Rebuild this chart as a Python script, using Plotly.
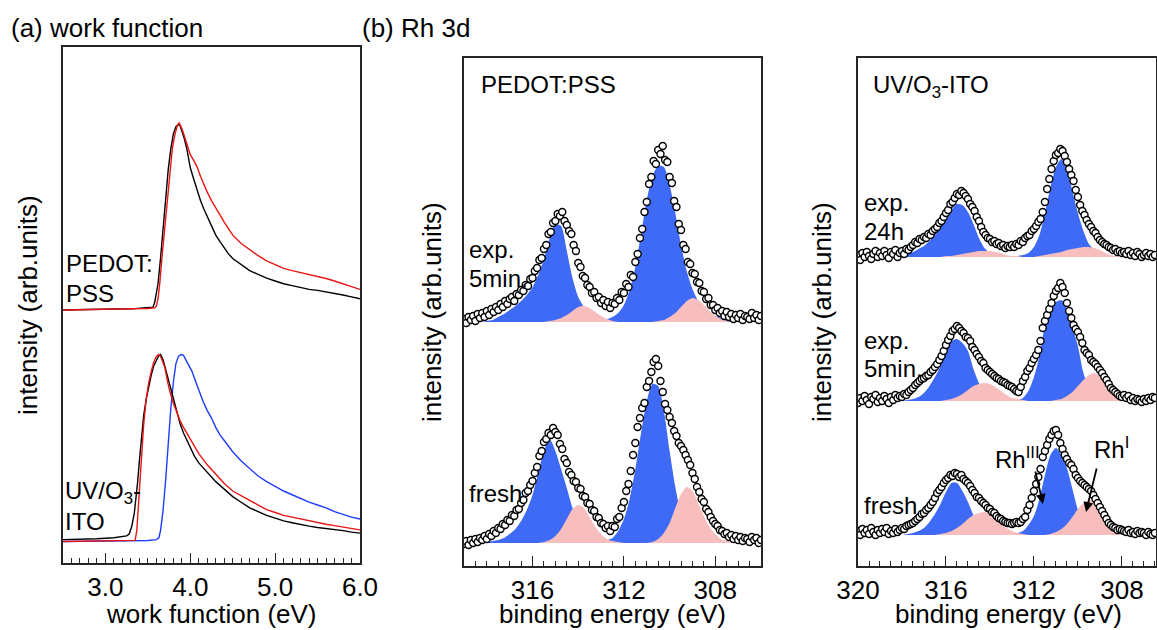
import numpy as np
import plotly.graph_objects as go

W, H = 1157, 630
FONT = "Liberation Sans, Arial, sans-serif"
BLUE = "rgb(62,106,245)"
PINK = "rgb(248,190,190)"

# ---------------- panel (a): work function (normalised intensity) ----------------
PED_BLK_X = [2.50, 2.70, 2.90, 3.10, 3.30, 3.50, 3.56, 3.58, 3.60, 3.62, 3.65, 3.68, 3.71, 3.74, 3.77, 3.80,
             3.83, 3.86, 3.88, 3.90, 3.93, 3.96, 4.00, 4.04, 4.08, 4.12, 4.16, 4.20, 4.25, 4.30, 4.35, 4.40,
             4.45, 4.50, 4.60, 4.70, 4.80, 4.90, 5.00, 5.10, 5.20, 5.30, 5.40, 5.50, 5.60, 5.70, 5.80, 5.90, 6.00]
PED_BLK_Y = [0.000, 0.003, 0.002, 0.005, 0.006, 0.010, 0.015, 0.040, 0.090, 0.140, 0.280, 0.450, 0.600, 0.750,
             0.860, 0.940, 0.980, 0.990, 0.985, 0.960, 0.915, 0.860, 0.760, 0.700, 0.640, 0.585, 0.540, 0.500,
             0.450, 0.400, 0.365, 0.330, 0.300, 0.275, 0.240, 0.210, 0.190, 0.170, 0.155, 0.140, 0.130, 0.120,
             0.110, 0.105, 0.097, 0.090, 0.080, 0.070, 0.060]
PED_RED_X = [2.50, 2.70, 2.90, 3.10, 3.30, 3.50, 3.58, 3.60, 3.62, 3.64, 3.67, 3.70, 3.73, 3.76, 3.79, 3.82,
             3.85, 3.87, 3.90, 3.93, 3.96, 4.00, 4.04, 4.08, 4.12, 4.16, 4.20, 4.25, 4.30, 4.35, 4.40, 4.45,
             4.50, 4.60, 4.70, 4.80, 4.90, 5.00, 5.10, 5.20, 5.30, 5.40, 5.50, 5.60, 5.70, 5.80, 5.90, 6.00]
PED_RED_Y = [0.000, 0.002, 0.004, 0.003, 0.006, 0.008, 0.012, 0.020, 0.060, 0.140, 0.300, 0.450, 0.600, 0.750,
             0.870, 0.940, 0.990, 1.000, 0.970, 0.930, 0.890, 0.830, 0.800, 0.765, 0.715, 0.670, 0.630, 0.585,
             0.545, 0.510, 0.470, 0.435, 0.400, 0.355, 0.320, 0.290, 0.262, 0.240, 0.222, 0.210, 0.200, 0.190,
             0.180, 0.168, 0.155, 0.140, 0.125, 0.110]
ITO_BLK_X = [2.50, 2.70, 2.90, 3.10, 3.20, 3.25, 3.28, 3.31, 3.34, 3.36, 3.38, 3.40, 3.42, 3.45, 3.48, 3.51,
             3.54, 3.57, 3.60, 3.63, 3.65, 3.68, 3.71, 3.74, 3.77, 3.80, 3.84, 3.88, 3.92, 3.96, 4.00, 4.05,
             4.10, 4.20, 4.30, 4.40, 4.50, 4.60, 4.70, 4.80, 4.90, 5.00, 5.10, 5.20, 5.30, 5.40, 5.50, 5.60,
             5.70, 5.80, 5.90, 6.00]
ITO_BLK_Y = [0.010, 0.012, 0.015, 0.020, 0.025, 0.030, 0.040, 0.080, 0.150, 0.220, 0.320, 0.430, 0.540, 0.670,
             0.760, 0.830, 0.890, 0.940, 0.970, 0.995, 1.000, 0.970, 0.920, 0.870, 0.810, 0.760, 0.690, 0.630,
             0.580, 0.540, 0.500, 0.455, 0.420, 0.370, 0.320, 0.280, 0.240, 0.210, 0.180, 0.160, 0.140, 0.125,
             0.110, 0.100, 0.090, 0.082, 0.075, 0.070, 0.065, 0.058, 0.050, 0.045]
ITO_RED_X = [2.50, 2.80, 3.10, 3.30, 3.35, 3.37, 3.39, 3.42, 3.45, 3.48, 3.51, 3.54, 3.57, 3.60, 3.63, 3.66,
             3.70, 3.73, 3.76, 3.80, 3.84, 3.88, 3.92, 3.96, 4.00, 4.05, 4.10, 4.20, 4.30, 4.40, 4.50, 4.60,
             4.70, 4.80, 4.90, 5.00, 5.10, 5.20, 5.30, 5.40, 5.50, 5.60, 5.70, 5.80, 5.90, 6.00]
ITO_RED_Y = [0.000, 0.002, 0.003, 0.004, 0.006, 0.060, 0.200, 0.430, 0.620, 0.760, 0.850, 0.910, 0.960, 0.990,
             1.000, 0.980, 0.930, 0.860, 0.800, 0.740, 0.690, 0.645, 0.610, 0.580, 0.550, 0.510, 0.470, 0.410,
             0.360, 0.310, 0.270, 0.245, 0.220, 0.195, 0.170, 0.155, 0.140, 0.130, 0.120, 0.110, 0.100, 0.092,
             0.085, 0.078, 0.070, 0.062]
ITO_BLU_X = [2.50, 2.90, 3.30, 3.50, 3.60, 3.63, 3.65, 3.68, 3.71, 3.74, 3.77, 3.80, 3.83, 3.86, 3.89, 3.92,
             3.95, 3.98, 4.02, 4.06, 4.10, 4.15, 4.20, 4.25, 4.30, 4.35, 4.40, 4.45, 4.50, 4.60, 4.70, 4.80,
             4.90, 5.00, 5.10, 5.20, 5.30, 5.40, 5.50, 5.60, 5.70, 5.80, 5.90, 6.00]
ITO_BLU_Y = [0.000, 0.002, 0.003, 0.005, 0.010, 0.020, 0.060, 0.170, 0.330, 0.540, 0.710, 0.850, 0.950, 0.990,
             1.000, 0.995, 0.970, 0.950, 0.910, 0.860, 0.810, 0.750, 0.700, 0.660, 0.610, 0.570, 0.540, 0.510,
             0.480, 0.430, 0.390, 0.350, 0.320, 0.295, 0.270, 0.250, 0.230, 0.210, 0.195, 0.180, 0.160, 0.145,
             0.130, 0.120]
WF_OFFSET_PEDOT = 1.238
WF_OFFSET_ITO = 0.0

# ---------------- panel (b): Rh 3d on PEDOT:PSS ----------------
E_B = np.round(np.arange(319.0, 305.95, -0.1), 2)      # data energies (eV)
F_B = np.round(np.arange(319.0, 305.9, -0.25), 2)      # fit-component energies (eV)
B_EXP5 = [3, -1, 5, 2, 6, 1, 8, 4, 9, 5,
          11, 7, 13, 10, 15, 12, 18, 15, 21, 18,
          23, 25, 21, 28, 27, 32, 31, 37, 36, 43,
          44, 51, 54, 62, 64, 73, 77, 88, 90, 99,
          101, 108, 106, 110, 101, 97, 91, 88, 77, 71,
          59, 55, 46, 44, 37, 35, 29, 30, 24, 25,
          19, 22, 16, 20, 14, 19, 18, 24, 22, 30,
          29, 38, 35, 47, 45, 60, 68, 84, 93, 110,
          120, 138, 145, 161, 158, 172, 168, 176, 162, 160,
          145, 139, 121, 115, 98, 92, 77, 73, 60, 58,
          49, 48, 40, 39, 31, 30, 23, 24, 17, 17,
          12, 14, 9, 11, 6, 10, 5, 8, 3, 7,
          4, 8, 2, 6, 5, 3, 9, 4, 7, 2,
          6]
B_FRESH = [-1, 2, -2, 3, 0, 4, 1, 5, 3, 7,
           4, 9, 7, 12, 10, 15, 14, 19, 18, 23,
           22, 28, 27, 33, 34, 40, 43, 50, 52, 58,
           62, 70, 76, 87, 92, 101, 104, 110, 108, 115,
           111, 108, 99, 94, 84, 80, 71, 68, 62, 61,
           55, 54, 47, 46, 40, 39, 33, 32, 26, 25,
           20, 19, 15, 17, 12, 17, 16, 24, 26, 35,
           41, 52, 59, 72, 88, 100, 116, 125, 135, 140,
           156, 162, 171, 181, 184, 177, 162, 151, 139, 133,
           126, 120, 112, 107, 100, 97, 93, 88, 83, 78,
           70, 64, 56, 51, 44, 41, 34, 31, 26, 22,
           19, 17, 13, 12, 9, 10, 6, 8, 4, 7,
           3, 6, 2, 5, 4, 1, 6, 3, 5, 0,
           3]
B_EXP5_RH3 = [0, 0, 0, 0, 1, 2, 5, 8, 12, 16, 21, 27, 35, 47, 63, 84, 98, 96, 71, 44, 25, 15, 9, 6, 4, 3,
              5, 9, 17, 32, 55, 88, 122, 146, 156, 155, 137, 109, 77, 51, 33, 21, 14, 9, 6, 4, 2, 1, 0, 0, 0, 0, 0]
B_EXP5_RH1 = [0] * 15 + [1, 2, 4, 7, 11, 15, 16, 14, 10, 6, 3, 1] + [0] * 7 + \
             [1, 2, 5, 9, 15, 21, 24, 22, 17, 11, 6, 3, 1] + [0] * 6
B_FRESH_RH3 = [0, 0, 0, 0, 1, 2, 3, 5, 9, 14, 22, 33, 48, 70, 92, 104, 92, 74, 55, 35, 21, 13, 8, 5, 3, 3,
               5, 12, 24, 44, 74, 110, 142, 159, 157, 132, 92, 56, 29, 15, 8, 5, 3, 2, 1] + [0] * 8
B_FRESH_RH1 = [0] * 14 + [1, 3, 7, 14, 24, 34, 38, 35, 26, 16, 9, 4, 2, 1] + [0] * 5 + \
              [1, 4, 10, 20, 35, 49, 56, 52, 40, 27, 16, 9, 4, 2, 1] + [0] * 5
B_OFFSET_EXP5 = 244
B_OFFSET_FRESH = 23

# ---------------- panel (c): Rh 3d on UV/O3-ITO ----------------
E_C = np.round(np.arange(320.0, 306.45, -0.1), 2)
F_C = np.round(np.arange(320.0, 306.4, -0.25), 2)
C_EXP24 = [2, -3, 4, 0, 5, 1, -2, 3, 6, 0,
           4, 1, 6, 2, -1, 5, 3, 7, 0, 4,
           6, 3, 8, 7, 10, 12, 15, 14, 18, 17,
           20, 19, 23, 22, 26, 28, 30, 34, 36, 40,
           44, 47, 53, 55, 59, 63, 62, 66, 64, 61,
           58, 53, 50, 46, 40, 36, 30, 25, 22, 19,
           18, 15, 16, 13, 14, 11, 12, 9, 11, 10,
           12, 10, 13, 12, 16, 15, 19, 21, 22, 26,
           28, 31, 35, 38, 45, 55, 68, 78, 88, 96,
           102, 104, 108, 106, 101, 95, 88, 82, 76, 67,
           60, 52, 46, 42, 37, 33, 30, 26, 24, 20,
           17, 15, 13, 12, 10, 9, 7, 8, 5, 6,
           4, 5, 3, 6, 2, 4, 1, 5, 3, 0,
           2, 4, 1, 3, 0, 2]
C_EXP5 = [-2, 3, 0, 5, 1, -3, 4, 2, 6, -1,
          3, 0, 5, 2, -2, 4, 1, 6, 3, 5,
          4, 7, 6, 9, 11, 13, 16, 18, 20, 22,
          23, 25, 26, 29, 31, 34, 37, 41, 45, 50,
          56, 61, 65, 70, 72, 75, 73, 70, 68, 64,
          63, 60, 54, 51, 47, 44, 40, 38, 33, 31,
          29, 27, 25, 23, 22, 20, 19, 18, 16, 15,
          14, 12, 10, 9, 14, 20, 24, 30, 33, 38,
          42, 46, 51, 60, 73, 80, 86, 92, 98, 105,
          110, 113, 118, 114, 108, 98, 90, 83, 76, 72,
          69, 64, 58, 51, 48, 46, 41, 39, 37, 34,
          31, 28, 24, 21, 17, 13, 11, 9, 7, 5,
          4, 6, 3, 5, 1, 3, 0, 2, 1, -1,
          2, 0, 3, 1, 4, 3]
C_FRESH = [4, 0, 6, 2, 5, 1, 7, 3, 0, 5,
           2, 6, 3, 7, 1, 4, 2, 6, 3, 5,
           7, 6, 9, 10, 11, 12, 14, 16, 18, 21,
           22, 25, 27, 30, 33, 37, 42, 45, 48, 52,
           55, 57, 60, 59, 62, 61, 58, 60, 56, 54,
           52, 49, 45, 42, 38, 37, 34, 32, 30, 27,
           26, 23, 22, 19, 17, 16, 14, 13, 12, 12,
           11, 12, 13, 12, 13, 16, 18, 25, 30, 37,
           44, 51, 58, 66, 78, 84, 90, 96, 100, 104,
           105, 100, 92, 86, 80, 76, 72, 70, 66, 60,
           57, 54, 52, 50, 48, 46, 44, 40, 36, 32,
           28, 24, 20, 16, 12, 10, 8, 7, 5, 6,
           5, 4, 3, 5, 2, 3, 1, 4, 2, 3,
           2, 0, 3, 1, 0, 2]
C_EXP24_RH3 = [0] * 8 + [1, 3, 5, 8, 11, 16, 22, 29, 38, 47, 53, 52, 45, 33, 19, 9, 4, 2, 1, 1,
                         1, 1, 2, 4, 10, 22, 44, 70, 90, 98, 88, 66, 44, 26, 13, 7, 4, 2, 1] + [0] * 8
C_EXP24_RH1 = [0] * 16 + [1, 1, 2, 3, 4, 5, 6, 6, 6, 5, 4, 2, 1, 1] + [0] * 3 + \
              [1, 2, 3, 4, 5, 7, 8, 9, 10, 10, 9, 7, 4, 2, 1] + [0] * 7
C_EXP5_RH3 = [0] * 9 + [1, 2, 4, 8, 15, 24, 35, 50, 60, 62, 58, 50, 32, 18, 9, 5, 3, 2, 1, 1,
                        1, 3, 10, 24, 45, 76, 92, 99, 101, 92, 74, 55, 28, 14, 8, 5, 3, 1] + [0] * 8
C_EXP5_RH1 = [0] * 16 + [1, 2, 4, 7, 11, 15, 17, 18, 17, 14, 10, 6, 3, 2, 1] + [0] * 5 + \
             [1, 2, 5, 9, 15, 21, 26, 28, 25, 19, 12, 6, 3, 1] + [0] * 5
C_FRESH_RH3 = [0] * 9 + [1, 2, 4, 7, 13, 21, 31, 43, 52, 52, 44, 33, 20, 11, 6, 3, 2, 1, 1, 1,
                         2, 4, 10, 19, 36, 60, 80, 87, 80, 67, 46, 25, 10, 5, 3, 1] + [0] * 10
C_FRESH_RH1 = [0] * 15 + [1, 2, 4, 7, 11, 16, 20, 22, 23, 21, 17, 12, 7, 4, 2, 1] + [0] * 4 + \
              [1, 3, 6, 11, 18, 26, 32, 35, 33, 27, 19, 12, 6, 3, 1] + [0] * 5
C_OFFSET_EXP24 = 309
C_OFFSET_EXP5 = 165
C_OFFSET_FRESH = 31

for arr in (B_EXP5, B_FRESH):
    assert len(arr) == len(E_B), len(arr)
for arr in (C_EXP24, C_EXP5, C_FRESH):
    assert len(arr) == len(E_C), len(arr)
for arr in (B_EXP5_RH3, B_EXP5_RH1, B_FRESH_RH3, B_FRESH_RH1):
    assert len(arr) == len(F_B), len(arr)
for arr in (C_EXP24_RH3, C_EXP24_RH1, C_EXP5_RH3, C_EXP5_RH1, C_FRESH_RH3, C_FRESH_RH1):
    assert len(arr) == len(F_C), len(arr)


def px(x):
    return x / W


def py(y):
    return 1 - y / H


fig = go.Figure()

# panel (a) lines
for xs, ys, off, col in [
    (PED_BLK_X, PED_BLK_Y, WF_OFFSET_PEDOT, "black"),
    (PED_RED_X, PED_RED_Y, WF_OFFSET_PEDOT, "rgb(235,20,20)"),
    (ITO_BLU_X, ITO_BLU_Y, WF_OFFSET_ITO, "rgb(30,60,250)"),
    (ITO_BLK_X, ITO_BLK_Y, WF_OFFSET_ITO, "black"),
    (ITO_RED_X, ITO_RED_Y, WF_OFFSET_ITO, "rgb(235,20,20)"),
]:
    fig.add_trace(go.Scatter(x=xs, y=[v + off for v in ys], mode="lines",
                             line=dict(color=col, width=1.4), xaxis="x", yaxis="y",
                             showlegend=False, hoverinfo="skip"))


def add_components(grid, rh3, rh1, off, xa, ya):
    for comp, col in ((rh3, BLUE), (rh1, PINK)):
        fig.add_trace(go.Scatter(x=grid, y=[off] * len(grid), mode="lines", line=dict(width=0),
                                 xaxis=xa, yaxis=ya, showlegend=False, hoverinfo="skip"))
        fig.add_trace(go.Scatter(x=grid, y=[off + v for v in comp], mode="lines",
                                 line=dict(width=0, shape="spline", smoothing=0.7),
                                 fill="tonexty", fillcolor=col,
                                 xaxis=xa, yaxis=ya, showlegend=False, hoverinfo="skip"))


add_components(F_B, B_EXP5_RH3, B_EXP5_RH1, B_OFFSET_EXP5, "x2", "y2")
add_components(F_B, B_FRESH_RH3, B_FRESH_RH1, B_OFFSET_FRESH, "x2", "y2")
add_components(F_C, C_EXP24_RH3, C_EXP24_RH1, C_OFFSET_EXP24, "x3", "y3")
add_components(F_C, C_EXP5_RH3, C_EXP5_RH1, C_OFFSET_EXP5, "x3", "y3")
add_components(F_C, C_FRESH_RH3, C_FRESH_RH1, C_OFFSET_FRESH, "x3", "y3")

MARK = dict(symbol="circle", size=7, color="white", line=dict(color="black", width=1.4))
for en, data, off, xa, ya in [
    (E_B, B_EXP5, B_OFFSET_EXP5, "x2", "y2"),
    (E_B, B_FRESH, B_OFFSET_FRESH, "x2", "y2"),
    (E_C, C_EXP24, C_OFFSET_EXP24, "x3", "y3"),
    (E_C, C_EXP5, C_OFFSET_EXP5, "x3", "y3"),
    (E_C, C_FRESH, C_OFFSET_FRESH, "x3", "y3"),
]:
    fig.add_trace(go.Scatter(x=en, y=[v + off for v in data], mode="markers", marker=MARK,
                             xaxis=xa, yaxis=ya, showlegend=False, hoverinfo="skip"))

LINE = "#262626"


def xaxis(dom, rng, tickvals, ticktext, minor_dtick):
    return dict(domain=[px(dom[0]), px(dom[1])], range=rng, showline=True, linecolor=LINE, linewidth=1.5,
                mirror=True, showgrid=False, zeroline=False, ticks="inside", ticklen=10, tickwidth=1.3,
                tickcolor=LINE, tickvals=tickvals, ticktext=ticktext,
                tickfont=dict(size=26, family=FONT, color="black"), ticklabelstandoff=0,
                minor=dict(ticks="inside", ticklen=5, tickwidth=1.2, tickcolor=LINE, dtick=minor_dtick,
                           showgrid=False),
                automargin=False, fixedrange=True)


def yaxis(dom, rng, anchor):
    return dict(domain=[py(dom[1]), py(dom[0])], range=rng, showline=True, linecolor=LINE, linewidth=1.5,
                mirror=True, showgrid=False, zeroline=False, ticks="", showticklabels=False,
                automargin=False, fixedrange=True, anchor=anchor)


fig.update_layout(
    width=W, height=H, autosize=False, margin=dict(l=0, r=0, t=0, b=0),
    paper_bgcolor="white", plot_bgcolor="white", showlegend=False,
    xaxis=dict(xaxis((63, 360), [2.5, 6.0], [3, 4, 5, 6], ["3.0", "4.0", "5.0", "6.0"], 0.1), anchor="y"),
    yaxis=yaxis((47, 563), [-0.115, 2.644], "x"),
    xaxis2=dict(xaxis((464, 761), [319.0, 306.0], [316, 312, 308], ["316", "312", "308"], 0.5), anchor="y2"),
    yaxis2=yaxis((58, 566), [0, 508], "x2"),
    xaxis3=dict(xaxis((858, 1156), [320.0, 306.45], [320, 316, 312, 308], ["320", "316", "312", "308"], 0.5),
                anchor="y3"),
    yaxis3=yaxis((58, 566), [0, 508], "x3"),
)

ann = []


def text(x, y, s, size=24, anchor="left", angle=0):
    ann.append(dict(x=px(x), y=py(y), xref="paper", yref="paper", text=s, showarrow=False,
                    xanchor=anchor, yanchor="middle", textangle=angle,
                    font=dict(size=size, family=FONT, color="black")))


text(9, 28, "(a) work function", 26)
text(360, 28, "(b) Rh 3d", 26)
text(28, 305, "intensity (arb.units)", 26, "center", -90)
text(432, 312, "intensity (arb.units)", 26, "center", -90)
text(822, 312, "intensity (arb.units)", 26, "center", -90)
text(211, 614, "work function (eV)", 26, "center")
text(612, 614, "binding energy (eV)", 26, "center")
text(1008, 614, "binding energy (eV)", 26, "center")

text(64, 263, "PEDOT:")
text(64, 293, "PSS")
text(63, 492, "UV/O<sub>3</sub>-")
text(63, 521, "ITO")

text(479, 85, "PEDOT:PSS")
text(467, 250, "exp.")
text(467, 278, "5min.")
text(467, 493, "fresh")

text(871, 87, "UV/O<sub>3</sub>-ITO")
text(862, 203, "exp.")
text(862, 231, "24h")
text(862, 340, "exp.")
text(862, 368, "5min.")
text(862, 505, "fresh")
text(993, 458, "Rh<sup>III</sup>")
text(1092, 448, "Rh<sup>I</sup>")

for (hx, hy), (tx, ty) in [((1043, 504), (1035, 470)), ((1086, 512), (1097, 467))]:
    ann.append(dict(x=px(hx), y=py(hy), xref="paper", yref="paper", text="", showarrow=True,
                    ax=tx - hx, ay=ty - hy, axref="pixel", ayref="pixel",
                    arrowhead=2, arrowsize=1.1, arrowwidth=1.8, arrowcolor="black"))

fig.update_layout(annotations=ann)
fig.write_html("out.html", config={"displayModeBar": False},
               post_script="document.body.style.margin='0px';")
